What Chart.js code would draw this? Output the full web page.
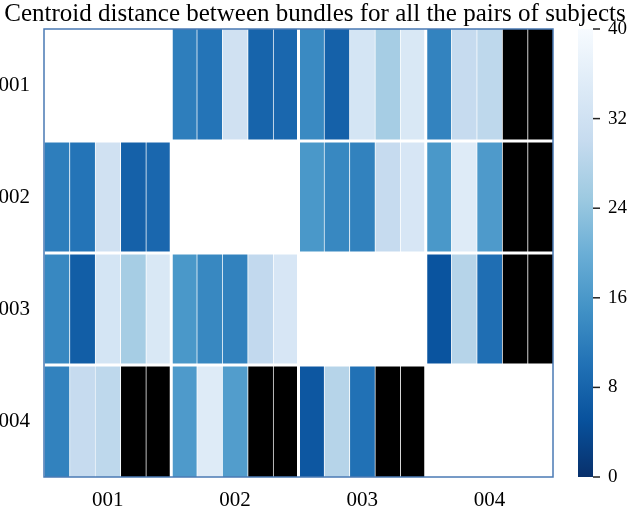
<!DOCTYPE html>
<html>
<head>
<meta charset="utf-8">
<script src="https://cdn.jsdelivr.net/npm/chart.js@4.4.1/dist/chart.umd.min.js"></script>
<style>
  html, body { margin: 0; padding: 0; background: #ffffff; }
  canvas { display: block; }
</style>
</head>
<body>
<canvas id="c" width="630" height="507"></canvas>
<script>
// ---- data (null = bundle missing; diagonal blocks = subject with itself) ----
const subjects = ['001', '002', '003', '004'];
const bundleNames = ['b1', 'b2', 'b3', 'b4', 'b5'];
const row001 = [null, null, null, null, null,  12, 10.5, 32, 8, 8.5,     13.8, 7.5, 33, 26, 34,     12.8, 30, 29, null, null];
const row002 = [12, 10.5, 32, 7.5, 8.5,        null, null, null, null, null,  16, 13.5, 12.5, 30, 33.5,  16, 35, 16.5, null, null];
const row003 = [13.5, 7, 33, 26, 34,           16, 13.5, 12.5, 29.5, 33.5,    null, null, null, null, null,  5.5, 28, 9.5, null, null];
const row004 = [12.5, 30, 29, null, null,      16.5, 35, 17, null, null,      6, 28, 10, null, null,     null, null, null, null, null];
const colorbarTicks = [0, 8, 16, 24, 32, 40];
const colorMin = 0, colorMax = 40;

const rows = [row001, row002, row003, row004];
const columnLabels = subjects.flatMap(s => bundleNames.map(b => s + '-' + b));

// matplotlib "Blues" anchors (used reversed: 0 -> dark, 40 -> white)
const blues = ['#f7fbff', '#deebf7', '#c6dbef', '#9ecae1', '#6baed6', '#4292c6', '#2171b5', '#08519c', '#08306b'];
function hex(h) { return [1, 3, 5].map(i => parseInt(h.substr(i, 2), 16)); }
const bluesRGB = blues.map(hex);
function bluesR(v) {
  let t = 1 - (v - colorMin) / (colorMax - colorMin);
  t = Math.max(0, Math.min(1, t));
  const p = t * (bluesRGB.length - 1);
  const i = Math.min(Math.floor(p), bluesRGB.length - 2);
  const f = p - i;
  const a = bluesRGB[i], b = bluesRGB[i + 1];
  return 'rgb(' + a.map((c, k) => Math.round(c + (b[k] - c) * f)).join(',') + ')';
}
function cellColor(r, idx) {
  const block = Math.floor(idx / bundleNames.length);
  if (block === r) return '#ffffff';
  const v = rows[r][idx];
  if (v === null) return '#000000';
  return bluesR(v);
}

const serif = "'Liberation Serif', 'Times New Roman', serif";

const decorPlugin = {
  id: 'decor',
  afterDatasetsDraw(chart) {
    const ctx = chart.ctx, a = chart.chartArea;
    const xs = chart.scales.x, ys = chart.scales.y;
    ctx.save();
    ctx.strokeStyle = '#ffffff';
    ctx.lineWidth = 3;
    for (let k = 1; k < subjects.length; k++) {
      const i = k * bundleNames.length;
      const x = (xs.getPixelForValue(i - 1) + xs.getPixelForValue(i)) / 2;
      ctx.beginPath(); ctx.moveTo(x, a.top); ctx.lineTo(x, a.bottom); ctx.stroke();
      const y = ys.getPixelForValue(k);
      ctx.beginPath(); ctx.moveTo(a.left, y); ctx.lineTo(a.right, y); ctx.stroke();
    }
    ctx.strokeStyle = '#4a7ab4';
    ctx.lineWidth = 1.5;
    ctx.strokeRect(a.left, a.top, a.right - a.left, a.bottom - a.top);
    ctx.restore();
  },
  afterDraw(chart) {
    const ctx = chart.ctx, a = chart.chartArea, cs = chart.scales.cb;
    const x0 = a.right + 25, w = 15;
    const yTop = cs.getPixelForValue(colorMax), yBot = cs.getPixelForValue(colorMin);
    const g = ctx.createLinearGradient(0, yBot, 0, yTop);
    blues.slice().reverse().forEach((c, i) => g.addColorStop(i / (blues.length - 1), c));
    ctx.save();
    ctx.fillStyle = g;
    ctx.fillRect(x0, yTop, w, yBot - yTop);
    ctx.strokeStyle = '#222';
    ctx.lineWidth = 1.5;
    colorbarTicks.forEach(v => {
      const y = cs.getPixelForValue(v);
      ctx.beginPath(); ctx.moveTo(x0 + w, y); ctx.lineTo(x0 + w + 7, y); ctx.stroke();
    });
    ctx.restore();
  }
};

new Chart(document.getElementById('c'), {
  type: 'bar',
  data: {
    labels: columnLabels,
    datasets: rows.map((row, r) => ({
      label: subjects[r],
      data: row.map(() => 1),
      backgroundColor: ctx => cellColor(r, ctx.dataIndex),
      borderColor: 'rgba(255,255,255,0.28)',
      borderWidth: { left: 1, right: 0, top: 0, bottom: 0 },
      borderSkipped: false,
      barPercentage: 1,
      categoryPercentage: 1
    }))
  },
  options: {
    responsive: false,
    animation: false,
    layout: { padding: 0 },
    plugins: {
      legend: { display: false },
      tooltip: { enabled: false },
      title: {
        display: true,
        text: 'Centroid distance between bundles for all the pairs of subjects',
        color: '#000',
        font: { family: serif, size: 25, weight: 'normal', lineHeight: 1.0 },
        padding: { top: 2, bottom: 2 }
      }
    },
    scales: {
      x: {
        type: 'category',
        stacked: true,
        grid: { display: false, drawTicks: false },
        border: { display: false },
        ticks: {
          autoSkip: false, maxRotation: 0, minRotation: 0, padding: 11,
          color: '#000', font: { family: serif, size: 21 },
          callback: (v, i) => (i % bundleNames.length === 2 ? subjects[Math.floor(i / bundleNames.length)] : '')
        },
        afterFit: s => { s.height = 30; }
      },
      y: {
        type: 'linear',
        stacked: true,
        min: 0, max: subjects.length,
        reverse: true,
        grid: { display: false, drawTicks: false },
        border: { display: false },
        afterBuildTicks: s => { s.ticks = subjects.map((_, i) => ({ value: i + 0.5 })); },
        ticks: {
          padding: 14, color: '#000', font: { family: serif, size: 21 },
          callback: v => subjects[Math.floor(v)]
        },
        afterFit: s => { s.width = 44; }
      },
      cb: {
        type: 'linear',
        position: 'right',
        min: colorMin, max: colorMax,
        grid: { display: true, drawOnChartArea: false, drawTicks: true, tickLength: 50, color: 'rgba(0,0,0,0)' },
        border: { display: false },
        afterBuildTicks: s => { s.ticks = colorbarTicks.map(v => ({ value: v })); },
        ticks: { padding: 5, color: '#000', font: { family: serif, size: 19 } },
        afterFit: s => { s.width = 77; }
      }
    }
  },
  plugins: [decorPlugin]
});
</script>
</body>
</html>
